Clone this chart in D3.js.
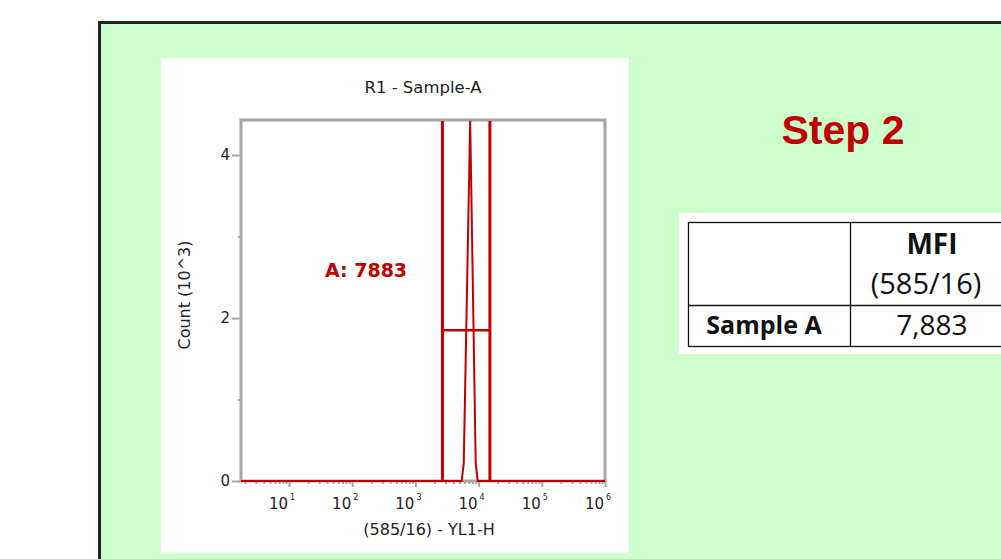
<!DOCTYPE html>
<html>
<head>
<meta charset="utf-8">
<script src="https://cdn.jsdelivr.net/npm/d3@7"></script>
<style>
  body { margin: 0; background: #fff; }
  svg { display: block; }
</style>
</head>
<body>
<div id="chart"></div>
<script>
// histogram trace (x = fluorescence YL1-H, y = count in thousands)
const histX = [1.74, 5400, 5820, 7360, 9000, 9680, 1e6];
const histY = [0, 0, 0.22, 4.42, 0.22, 0, 0];

// gate A
const gateRange = [2680, 15100];
const gateLevel = 1.85;
const gateLabel = "A: 7883";

const yTicks = [0, 2, 4];
const yMinorTicks = [1, 3];
const xExponents = [1, 2, 3, 4, 5, 6];

const tableHeader = ["MFI", "(585/16)"];
const tableRow = ["Sample A", "7,883"];

const red = "#c00000";
const gray = "#a6a6a6";
const font = "'DejaVu Sans', Verdana, sans-serif";

const svg = d3.select("#chart").append("svg")
  .attr("width", 1001)
  .attr("height", 559);

// green slide panel
svg.append("rect")
  .attr("x", 99.5).attr("y", 22.5)
  .attr("width", 1000).attr("height", 600)
  .attr("fill", "#ccffcc")
  .attr("stroke", "#222").attr("stroke-width", 3);

// white plot card
svg.append("rect")
  .attr("x", 161).attr("y", 58)
  .attr("width", 468).attr("height", 495)
  .attr("fill", "#fff");

const x = d3.scaleLog().domain([1.74, 1e6]).range([241, 605]);
const y = d3.scaleLinear().domain([0, 4.43]).range([481, 120]);

svg.append("text")
  .attr("x", 423).attr("y", 93)
  .attr("text-anchor", "middle")
  .style("font-family", font).style("font-size", "16.5px").attr("fill", "#222")
  .text("R1 - Sample-A");

// frame
svg.append("rect")
  .attr("x", x.range()[0]).attr("y", y.range()[1])
  .attr("width", x.range()[1] - x.range()[0])
  .attr("height", y.range()[0] - y.range()[1])
  .attr("fill", "none").attr("stroke", gray).attr("stroke-width", 3);

// y axis
const yAxis = svg.append("g")
  .attr("transform", `translate(${x.range()[0]},0)`)
  .call(d3.axisLeft(y).tickValues(yTicks).tickSize(9).tickFormat(d3.format("d")));
svg.append("g")
  .attr("transform", `translate(${x.range()[0]},0)`)
  .call(d3.axisLeft(y).tickValues(yMinorTicks).tickSize(3).tickFormat(""));

// x axis
const majors = xExponents.map((e) => Math.pow(10, e));
const minors = [];
for (let e = 0; e <= 5; e++) {
  for (let m = 2; m <= 9; m++) {
    const v = m * Math.pow(10, e);
    if (v > x.domain()[0]) minors.push(v);
  }
}
svg.append("g")
  .attr("transform", `translate(0,${y.range()[0]})`)
  .call(d3.axisBottom(x).tickValues(majors).tickSize(6).tickFormat(""));
svg.append("g")
  .attr("transform", `translate(0,${y.range()[0]})`)
  .call(d3.axisBottom(x).tickValues(minors).tickSize(3).tickFormat(""));

svg.selectAll(".domain").remove();
svg.selectAll(".tick line").attr("stroke", gray).attr("stroke-width", 2);
yAxis.selectAll(".tick text")
  .attr("x", -11)
  .style("font-family", font).style("font-size", "15px").attr("fill", "#222");

const xLabels = svg.append("g");
xLabels.selectAll("text.base")
  .data(xExponents)
  .enter()
  .append("text")
  .attr("class", "base")
  .attr("x", (d) => x(Math.pow(10, d)) - 1)
  .attr("y", 509)
  .attr("text-anchor", "end")
  .style("font-family", font).style("font-size", "15px").attr("fill", "#222")
  .text("10");
xLabels.selectAll("text.exp")
  .data(xExponents)
  .enter()
  .append("text")
  .attr("class", "exp")
  .attr("x", (d) => x(Math.pow(10, d)) + 1)
  .attr("y", 500)
  .style("font-family", font).style("font-size", "8px").attr("fill", "#222")
  .text((d) => d);

svg.append("text")
  .attr("x", 429).attr("y", 535)
  .attr("text-anchor", "middle")
  .style("font-family", font).style("font-size", "16px").attr("fill", "#222")
  .text("(585/16) - YL1-H");

svg.append("text")
  .attr("transform", "translate(190,295) rotate(-90)")
  .attr("text-anchor", "middle")
  .style("font-family", font).style("font-size", "16px").attr("fill", "#222")
  .text("Count (10^3)");

// histogram
const line = d3.line()
  .x((d, i) => x(histX[i]))
  .y((d) => y(d));
svg.append("path")
  .datum(histY)
  .attr("fill", "none")
  .attr("stroke", red)
  .attr("stroke-width", 2)
  .attr("d", line);

// gate
svg.selectAll("line.gate")
  .data(gateRange)
  .enter()
  .append("line")
  .attr("class", "gate")
  .attr("x1", (d) => x(d)).attr("x2", (d) => x(d))
  .attr("y1", y.range()[1] + 1).attr("y2", y(0))
  .attr("stroke", red).attr("stroke-width", 3);
svg.append("line")
  .attr("x1", x(gateRange[0])).attr("x2", x(gateRange[1]))
  .attr("y1", y(gateLevel)).attr("y2", y(gateLevel))
  .attr("stroke", red).attr("stroke-width", 2.5);

svg.append("text")
  .attr("x", 366).attr("y", 277)
  .attr("text-anchor", "middle")
  .style("font-family", font).style("font-size", "19px")
  .style("font-weight", "bold").attr("fill", red)
  .text(gateLabel);

// Step 2 heading
svg.append("text")
  .attr("x", 843).attr("y", 144)
  .attr("text-anchor", "middle")
  .style("font-family", "'Liberation Sans', Arial, sans-serif")
  .style("font-size", "41px").style("font-weight", "bold")
  .attr("fill", red)
  .text("Step 2");

// MFI table
const tfont = "'Open Sans', sans-serif";
svg.append("rect")
  .attr("x", 679).attr("y", 213)
  .attr("width", 340).attr("height", 141)
  .attr("fill", "#fff");
svg.append("rect")
  .attr("x", 688.5).attr("y", 222.5)
  .attr("width", 400).attr("height", 124)
  .attr("fill", "none").attr("stroke", "#111").attr("stroke-width", 1.3);
svg.append("line")
  .attr("x1", 688).attr("x2", 1001).attr("y1", 305.5).attr("y2", 305.5)
  .attr("stroke", "#111").attr("stroke-width", 1.3);
svg.append("line")
  .attr("x1", 850.5).attr("x2", 850.5).attr("y1", 222).attr("y2", 347)
  .attr("stroke", "#111").attr("stroke-width", 1.3);

svg.append("text")
  .attr("x", 932).attr("y", 254)
  .attr("text-anchor", "middle")
  .style("font-family", tfont).style("font-size", "28px").style("font-weight", "bold")
  .attr("fill", "#111")
  .text(tableHeader[0]);
svg.append("text")
  .attr("x", 926).attr("y", 294)
  .attr("text-anchor", "middle")
  .style("font-family", tfont).style("font-size", "29px")
  .attr("fill", "#111")
  .text(tableHeader[1]);
svg.append("text")
  .attr("x", 764).attr("y", 334)
  .attr("text-anchor", "middle")
  .style("font-family", tfont).style("font-size", "25px").style("font-weight", "bold")
  .attr("fill", "#111")
  .text(tableRow[0]);
svg.append("text")
  .attr("x", 932).attr("y", 335)
  .attr("text-anchor", "middle")
  .style("font-family", tfont).style("font-size", "28px")
  .attr("fill", "#111")
  .text(tableRow[1]);
</script>
</body>
</html>
